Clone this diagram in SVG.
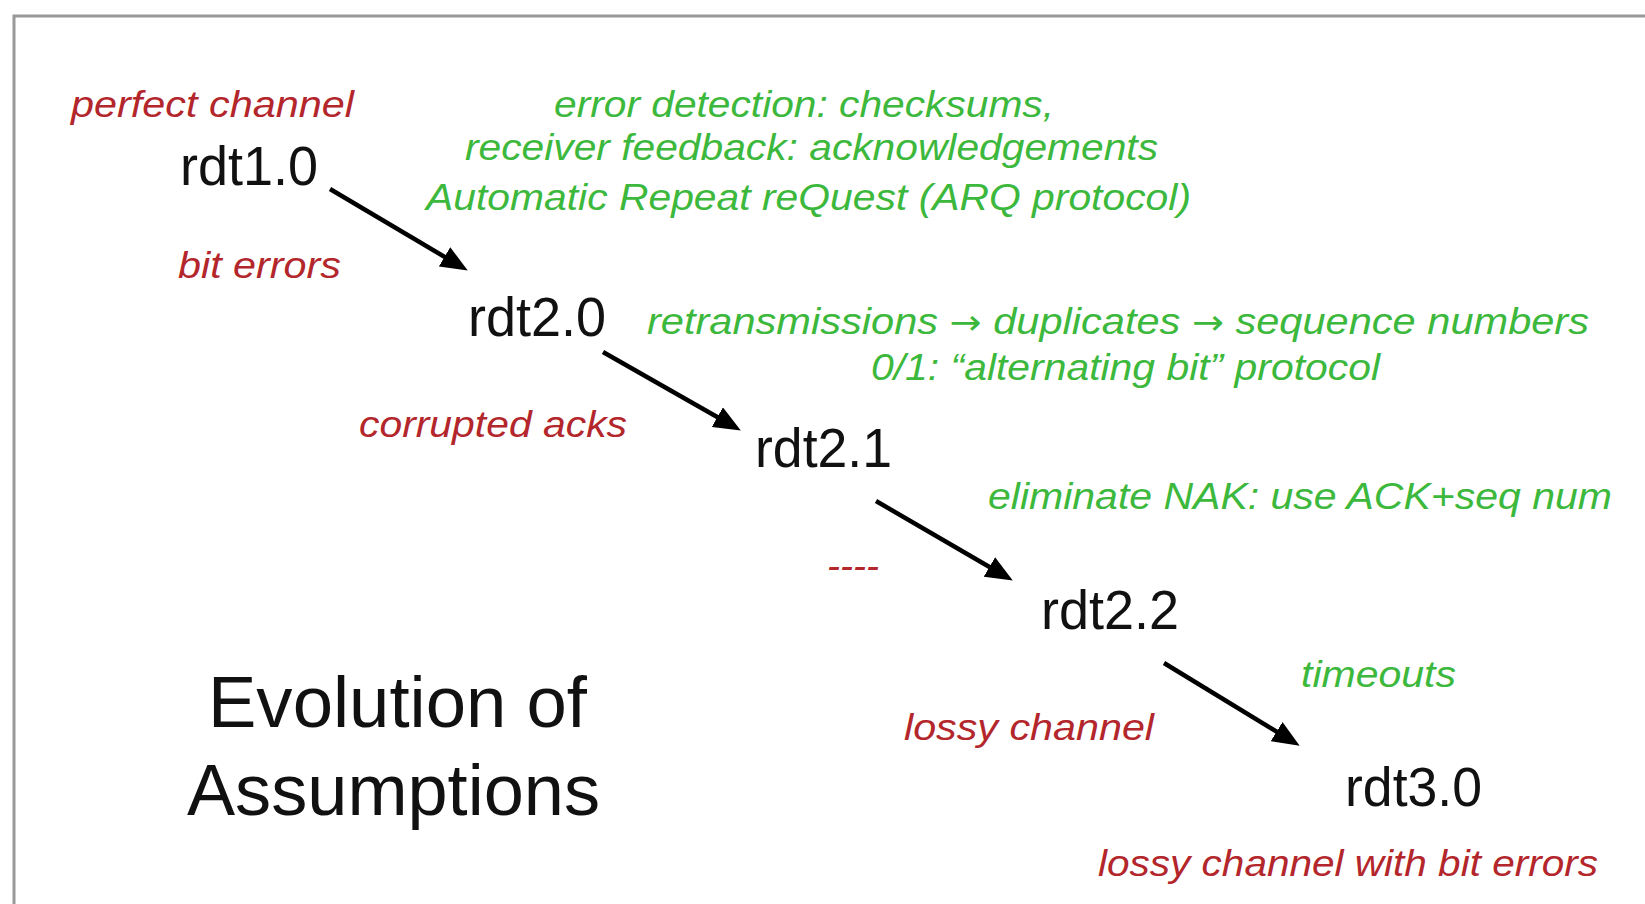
<svg xmlns="http://www.w3.org/2000/svg" width="1645" height="904" viewBox="0 0 1645 904">
<style>
.node{font-family:"Liberation Sans",Arial,sans-serif;font-size:56px;fill:#111;}
.red{font-family:"Liberation Sans",Arial,sans-serif;font-size:37px;font-style:italic;fill:#b3262b;}
.green{font-family:"Liberation Sans",Arial,sans-serif;font-size:37px;font-style:italic;fill:#3cb83c;}
.arr{font-family:"DejaVu Sans",sans-serif;font-style:normal;font-size:34px;}
.title{font-family:"Liberation Sans",Arial,sans-serif;font-size:72px;fill:#111;}
.edge{stroke:#000;stroke-width:4.5;fill:none;marker-end:url(#ah);}
</style>
<defs>
<marker id="ah" markerWidth="6" markerHeight="5" refX="4" refY="2.5" orient="auto" markerUnits="strokeWidth">
<path d="M0,0 L6,2.5 L0,5 z" fill="#000"/>
</marker>
</defs>
<rect x="0" y="0" width="1645" height="904" fill="#fff"/>
<path d="M14,904 L14,16 L1645,16" stroke="#999" stroke-width="3" fill="none"/>
<g id="n-rdt10"><text class="node" x="180" y="185" textLength="138" lengthAdjust="spacingAndGlyphs">rdt1.0</text></g>
<g id="n-rdt20"><text class="node" x="468" y="336" textLength="138" lengthAdjust="spacingAndGlyphs">rdt2.0</text></g>
<g id="n-rdt21"><text class="node" x="755" y="467" textLength="137" lengthAdjust="spacingAndGlyphs">rdt2.1</text></g>
<g id="n-rdt22"><text class="node" x="1041" y="629" textLength="138" lengthAdjust="spacingAndGlyphs">rdt2.2</text></g>
<g id="n-rdt30"><text class="node" x="1345" y="806" textLength="137" lengthAdjust="spacingAndGlyphs">rdt3.0</text></g>
<g id="labels">
<text class="red" x="71" y="117" textLength="283" lengthAdjust="spacingAndGlyphs">perfect channel</text>
<text class="green" x="554" y="117" textLength="500" lengthAdjust="spacingAndGlyphs">error detection: checksums,</text>
<text class="green" x="465" y="160" textLength="693" lengthAdjust="spacingAndGlyphs">receiver feedback: acknowledgements</text>
<text class="green" x="426" y="210" textLength="765" lengthAdjust="spacingAndGlyphs">Automatic Repeat reQuest (ARQ protocol)</text>
<text class="red" x="178" y="278" textLength="163" lengthAdjust="spacingAndGlyphs">bit errors</text>
<text class="green" x="647" y="334" textLength="942" lengthAdjust="spacingAndGlyphs">retransmissions <tspan class="arr">→</tspan> duplicates <tspan class="arr">→</tspan> sequence numbers</text>
<text class="green" x="871" y="380" textLength="509" lengthAdjust="spacingAndGlyphs">0/1: “alternating bit” protocol</text>
<text class="red" x="359" y="437" textLength="268" lengthAdjust="spacingAndGlyphs">corrupted acks</text>
<text class="green" x="988" y="509" textLength="624" lengthAdjust="spacingAndGlyphs">eliminate NAK: use ACK+seq num</text>
<text class="red" x="827" y="578" textLength="52" lengthAdjust="spacingAndGlyphs">----</text>
<text class="green" x="1301" y="687" textLength="155" lengthAdjust="spacingAndGlyphs">timeouts</text>
<text class="red" x="904" y="740" textLength="250" lengthAdjust="spacingAndGlyphs">lossy channel</text>
<text class="red" x="1098" y="876" textLength="500" lengthAdjust="spacingAndGlyphs">lossy channel with bit errors</text>
</g>
<g id="title">
<text class="title" x="208" y="727" textLength="379" lengthAdjust="spacingAndGlyphs">Evolution of</text>
<text class="title" x="187" y="815" textLength="413" lengthAdjust="spacingAndGlyphs">Assumptions</text>
</g>
<g id="connectors">
<line class="edge" x1="330" y1="189" x2="460" y2="266"/>
<line class="edge" x1="603" y1="352" x2="733" y2="426"/>
<line class="edge" x1="876" y1="501" x2="1005" y2="576"/>
<line class="edge" x1="1164" y1="663" x2="1292" y2="741"/>
</g>
</svg>
